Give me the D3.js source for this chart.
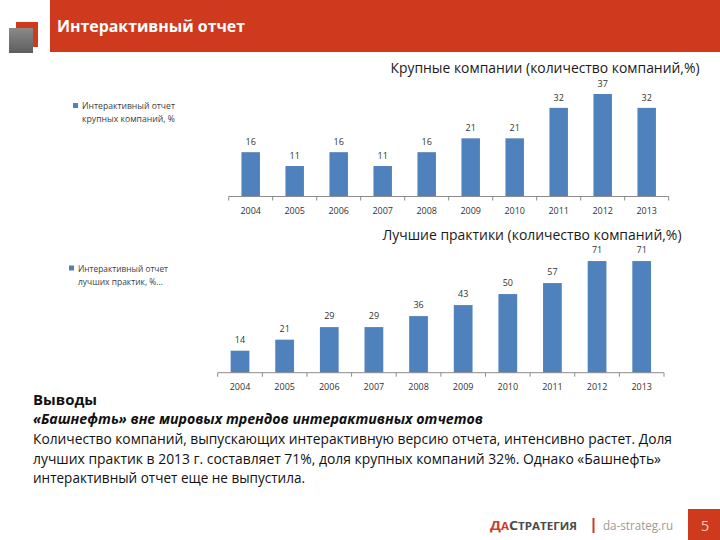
<!DOCTYPE html>
<html>
<head>
<meta charset="utf-8">
<script src="https://cdn.jsdelivr.net/npm/d3@7"></script>
<style>
  html, body { margin: 0; padding: 0; background: #fff; }
  svg { display: block; }
</style>
</head>
<body>
<script>
// ---- data ----
const years = ["2004","2005","2006","2007","2008","2009","2010","2011","2012","2013"];
const largeCompanies = [16, 11, 16, 11, 16, 21, 21, 32, 37, 32];
const bestPractices  = [14, 21, 29, 29, 36, 43, 50, 57, 71, 71];
const chart1Title = "Крупные компании (количество компаний,%)";
const chart2Title = "Лучшие практики (количество компаний,%)";
const legend1 = ["Интерактивный отчет", "крупных компаний, %"];
const legend2 = ["Интерактивный отчет", "лучших практик, %..."];
const bodyLines = [
  "Количество компаний, выпускающих интерактивную версию отчета, интенсивно растет. Доля",
  "лучших практик в 2013 г. составляет 71%, доля крупных компаний 32%. Однако «Башнефть»",
  "интерактивный отчет еще не выпустила."
];

const W = 720, H = 540;
const RED = "#cf3a1f";
const BAR = "#4f81bd";
const FONT = "'Open Sans', 'Noto Sans', sans-serif";

const svg = d3.select("body").append("svg").attr("width", W).attr("height", H)
  .style("font-family", FONT);

// ---- header ----
const defs = svg.append("defs");
const g = defs.append("linearGradient").attr("id","greyg").attr("x1","0").attr("y1","0").attr("x2","0").attr("y2","1");
g.append("stop").attr("offset","0").attr("stop-color","#8a8a8a");
g.append("stop").attr("offset","1").attr("stop-color","#5e5e5e");

svg.append("rect").attr("x",50).attr("y",0).attr("width",670).attr("height",52).attr("fill",RED);
svg.append("rect").attr("x",16).attr("y",22).attr("width",22).attr("height",25).attr("fill",RED);
svg.append("rect").attr("x",9).attr("y",28).attr("width",24).attr("height",25).attr("fill","url(#greyg)");
svg.append("text").attr("x",57).attr("y",32).attr("fill","#fff")
  .attr("font-size",16).attr("font-weight","bold")
  .attr("textLength",188).attr("lengthAdjust","spacingAndGlyphs")
  .text("Интерактивный отчет");

// ---- chart drawing ----
function drawChart(opts) {
  const x = d3.scaleBand().domain(years).range(opts.xRange)
    .paddingInner(0.58).paddingOuter(0.29);
  const y = d3.scaleLinear().domain([0, opts.yMax]).range([opts.base, opts.top]);
  const gc = svg.append("g");

  // title
  gc.append("text").attr("x", opts.titleX).attr("y", opts.titleY)
    .attr("text-anchor","middle").attr("font-size",14).attr("fill","#1a1a1a")
    .attr("textLength", opts.titleW).attr("lengthAdjust","spacingAndGlyphs")
    .text(opts.title);

  // bars
  gc.selectAll("rect.bar").data(opts.values).enter().append("rect")
    .attr("class","bar")
    .attr("x",(d,i)=>x(years[i]))
    .attr("width", x.bandwidth())
    .attr("y", d=>y(d))
    .attr("height", d=>opts.base - y(d))
    .attr("fill", BAR);

  // value labels
  gc.selectAll("text.val").data(opts.values).enter().append("text")
    .attr("class","val")
    .attr("x",(d,i)=>x(years[i]) + x.bandwidth()/2)
    .attr("y", d=>y(d) - opts.labelGap)
    .attr("text-anchor","middle").attr("font-size",9).attr("fill","#333")
    .text(d=>d);

  // axis
  const axisG = gc.append("g").attr("transform",`translate(0,${opts.base})`);
  axisG.append("line").attr("x1",opts.xRange[0]).attr("x2",opts.xRange[1])
    .attr("stroke","#8c8c8c").attr("stroke-width",1);
  const step = x.step();
  const bounds = d3.range(years.length+1).map(i => opts.xRange[0] + i*step);
  axisG.selectAll("line.tk").data(bounds).enter().append("line")
    .attr("class","tk").attr("x1",d=>d).attr("x2",d=>d).attr("y1",0).attr("y2",4)
    .attr("stroke","#8c8c8c");
  axisG.selectAll("text.tl").data(years).enter().append("text")
    .attr("class","tl")
    .attr("x", d=>x(d)+x.bandwidth()/2).attr("y", opts.tickY - opts.base)
    .attr("text-anchor","middle").attr("font-size",9).attr("fill","#333")
    .text(d=>d);

  // legend
  gc.append("rect").attr("x",opts.legX).attr("y",opts.legY).attr("width",5).attr("height",5).attr("fill",BAR);
  opts.legend.forEach((t,i)=>{
    gc.append("text").attr("x",opts.legX+9).attr("y",opts.legY+6+i*13)
      .attr("font-size",9).attr("fill","#404040")
      .attr("textLength", opts.legW[i]).attr("lengthAdjust","spacingAndGlyphs")
      .text(t);
  });
}

drawChart({
  values: largeCompanies, title: chart1Title, legend: legend1,
  xRange: [228.7, 668.7], base: 196.5, top: 85.7, yMax: 40,
  titleX: 545, titleY: 73, titleW: 309, labelGap: 7, tickY: 213.5,
  legX: 73, legY: 103, legW: [93, 93]
});

drawChart({
  values: bestPractices, title: chart2Title, legend: legend2,
  xRange: [217.7, 664], base: 372.7, top: 246.9, yMax: 80,
  titleX: 532, titleY: 239.5, titleW: 299, labelGap: 8, tickY: 390,
  legX: 69, legY: 265.5, legW: [90, 85]
});

// ---- conclusions ----
svg.append("text").attr("x",33).attr("y",405).attr("font-size",14).attr("font-weight","bold")
  .attr("fill","#111").attr("textLength",64).attr("lengthAdjust","spacingAndGlyphs").text("Выводы");
svg.append("text").attr("x",33).attr("y",424).attr("font-size",14).attr("font-weight","bold")
  .attr("font-style","italic").attr("fill","#111")
  .attr("textLength",450).attr("lengthAdjust","spacingAndGlyphs")
  .text("«Башнефть» вне мировых трендов интерактивных отчетов");
const bodyW = [639, 628, 272];
bodyLines.forEach((t,i)=>{
  svg.append("text").attr("x",33).attr("y",444 + i*19.5).attr("font-size",14)
    .attr("fill","#111").attr("textLength",bodyW[i]).attr("lengthAdjust","spacingAndGlyphs")
    .text(t);
});

// ---- footer ----
const logo = svg.append("text").attr("x",490).attr("y",530).attr("font-weight","bold")
  .attr("font-size",10.5).attr("textLength",87).attr("lengthAdjust","spacingAndGlyphs");
logo.append("tspan").attr("fill",RED).attr("font-size",13).text("Д");
logo.append("tspan").attr("fill",RED).text("А");
logo.append("tspan").attr("fill","#4a4a4a").attr("font-size",13).text("С");
logo.append("tspan").attr("fill","#4a4a4a").text("ТРАТЕГИЯ");
svg.append("line").attr("x1",593.5).attr("x2",593.5).attr("y1",518).attr("y2",533)
  .attr("stroke",RED).attr("stroke-width",2);
svg.append("text").attr("x",603).attr("y",530).attr("font-size",12).attr("fill","#9a9a9a")
  .attr("textLength",70).attr("lengthAdjust","spacingAndGlyphs").text("da-strateg.ru");
svg.append("rect").attr("x",688).attr("y",509).attr("width",32).attr("height",31).attr("fill",RED);
svg.append("text").attr("x",705).attr("y",531).attr("text-anchor","middle").attr("font-size",15)
  .attr("fill","#f4c9b8").text("5");
</script>
</body>
</html>
